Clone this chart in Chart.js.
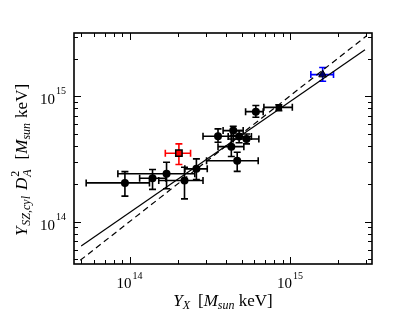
<!DOCTYPE html>
<html>
<head>
<meta charset="utf-8">
<script src="https://cdn.jsdelivr.net/npm/chart.js@4.4.1/dist/chart.umd.min.js"></script>
<style>
  html, body { margin: 0; padding: 0; background: #fff; }
  canvas { display: block; }
</style>
</head>
<body>
<canvas id="yszChart" width="415" height="312"></canvas>
<script>
// Datos del gráfico
const circX   = [9.35e13, 1.39e14, 1.70e14, 2.20e14, 2.61e14, 3.56e14, 4.43e14, 4.82e14, 5.36e14, 4.31e14, 4.69e14, 6.13e14];
const circY   = [2.04e14, 2.22e14, 2.41e14, 2.13e14, 2.64e14, 4.81e14, 5.33e14, 4.78e14, 4.57e14, 3.97e14, 3.06e14, 7.55e14];
const circXlo = [5.36e13, 1.155e14, 8.45e13, 1.52e14, 2.21e14, 2.87e14, 3.83e14, 4.12e14, 4.43e14, 3.56e14, 3.02e14, 5.29e14];
const circXhi = [1.33e14, 1.68e14, 2.55e14, 2.87e14, 3.05e14, 4.31e14, 5.11e14, 5.75e14, 6.40e14, 5.16e14, 6.34e14, 6.81e14];
const circYlo = [1.60e14, 1.81e14, 1.83e14, 1.52e14, 2.17e14, 4.30e14, 4.87e14, 4.26e14, 4.18e14, 3.31e14, 2.52e14, 6.81e14];
const circYhi = [2.51e14, 2.61e14, 2.98e14, 2.72e14, 3.17e14, 5.50e14, 5.77e14, 5.33e14, 5.01e14, 4.57e14, 3.58e14, 8.44e14];

const sqX = [8.53e14], sqY = [8.17e14];
const sqXlo = [6.88e14], sqXhi = [1.035e15], sqYlo = [7.69e14], sqYhi = [8.58e14];

const redX = [2.03e14], redY = [3.52e14];
const redXlo = [1.67e14], redXhi = [2.40e14], redYlo = [2.86e14], redYhi = [4.18e14];

const bluX = [1.60e15], bluY = [1.49e15];
const bluXlo = [1.35e15], bluXhi = [1.87e15], bluYlo = [1.32e15], bluYhi = [1.70e15];

// Rectas: ajuste (continua) y relación 1:1 (discontinua)
const fitX = [4.99e13, 2.94e15], fitY = [6.40e13, 2.35e15];
const oneX = [4.92e13, 3.01e15], oneY = [4.92e13, 3.04e15];

// Límites de los ejes y marcas principales
const xLimits = [4.5e13, 3.25e15];
const yLimits = [4.6e13, 3.2e15];
const majorTicks = [1e14, 1e15];
const tickExp = ['14', '15'];

const FONT = '"Liberation Serif", "DejaVu Serif", serif';

function pts(xs, ys) {
    return xs.map((x, i) => ({ x: x, y: ys[i] }));
}

function errs(xlo, xhi, ylo, yhi) {
    return xlo.map((v, i) => ({ xlo: v, xhi: xhi[i], ylo: ylo[i], yhi: yhi[i] }));
}

// Dibuja texto con subíndices / superíndices
function drawRuns(ctx, runs, cx, baseY) {
    function layout(draw, startX) {
        let cur = startX, prevStart = startX, maxEnd = startX;
        runs.forEach(r => {
            let w = r.gap || 0;
            if (r.t) {
                ctx.font = (r.italic ? 'italic ' : '') + r.size + 'px ' + FONT;
                w = ctx.measureText(r.t).width;
            }
            const x = r.stack ? prevStart : cur;
            if (draw && r.t) ctx.fillText(r.t, x, baseY + (r.dy || 0));
            prevStart = x;
            cur = r.stack ? Math.max(x + w, cur) : x + w;
            maxEnd = Math.max(maxEnd, cur);
        });
        return maxEnd - startX;
    }
    ctx.textAlign = 'left';
    ctx.textBaseline = 'alphabetic';
    const total = layout(false, 0);
    layout(true, cx - total / 2);
}

// Plugin: barras de error
const errorBars = {
    id: 'errorBars',
    beforeDatasetsDraw(chart) {
        const ctx = chart.ctx;
        const xs = chart.scales.x, ys = chart.scales.y;
        chart.data.datasets.forEach(ds => {
            if (!ds.err) return;
            ctx.save();
            ctx.strokeStyle = ds.errColor;
            ctx.lineWidth = 1.6;
            ds.err.forEach((e, i) => {
                const px = xs.getPixelForValue(ds.data[i].x);
                const py = ys.getPixelForValue(ds.data[i].y);
                const x0 = xs.getPixelForValue(e.xlo), x1 = xs.getPixelForValue(e.xhi);
                const y0 = ys.getPixelForValue(e.ylo), y1 = ys.getPixelForValue(e.yhi);
                const c = 3.5;
                ctx.beginPath();
                ctx.moveTo(x0, py); ctx.lineTo(x1, py);
                ctx.moveTo(x0, py - c); ctx.lineTo(x0, py + c);
                ctx.moveTo(x1, py - c); ctx.lineTo(x1, py + c);
                ctx.moveTo(px, y0); ctx.lineTo(px, y1);
                ctx.moveTo(px - c, y0); ctx.lineTo(px + c, y0);
                ctx.moveTo(px - c, y1); ctx.lineTo(px + c, y1);
                ctx.stroke();
            });
            ctx.restore();
        });
    }
};

// Plugin: marco, marcas hacia dentro, etiquetas y títulos
const frameAxes = {
    id: 'frameAxes',
    afterDraw(chart) {
        const ctx = chart.ctx;
        const a = chart.chartArea;
        const xs = chart.scales.x, ys = chart.scales.y;
        ctx.save();
        ctx.strokeStyle = '#000';
        ctx.fillStyle = '#000';

        // marcas
        ctx.lineWidth = 1;
        ctx.beginPath();
        for (let e = 13; e <= 15; e++) {
            for (let k = 1; k <= 9; k++) {
                const v = k * Math.pow(10, e);
                const len = k === 1 ? 7 : 4;
                if (v >= xLimits[0] && v <= xLimits[1]) {
                    const px = Math.round(xs.getPixelForValue(v)) + 0.5;
                    ctx.moveTo(px, a.bottom); ctx.lineTo(px, a.bottom - len);
                    ctx.moveTo(px, a.top); ctx.lineTo(px, a.top + len);
                }
                if (v >= yLimits[0] && v <= yLimits[1]) {
                    const py = Math.round(ys.getPixelForValue(v)) + 0.5;
                    ctx.moveTo(a.left, py); ctx.lineTo(a.left + len, py);
                    ctx.moveTo(a.right, py); ctx.lineTo(a.right - len, py);
                }
            }
        }
        ctx.stroke();

        // marco
        ctx.lineWidth = 1.6;
        ctx.strokeRect(a.left, a.top, a.right - a.left, a.bottom - a.top);

        // etiquetas de las marcas
        ctx.textBaseline = 'alphabetic';
        majorTicks.forEach((v, i) => {
            ctx.font = '15px ' + FONT;
            const w10 = ctx.measureText('10').width;
            ctx.font = '10px ' + FONT;
            const wE = ctx.measureText(tickExp[i]).width;

            // eje x
            const px = xs.getPixelForValue(v);
            const sx = px - (w10 + wE + 1) / 2;
            ctx.textAlign = 'left';
            ctx.font = '15px ' + FONT;
            ctx.fillText('10', sx, a.bottom + 24);
            ctx.font = '10px ' + FONT;
            ctx.fillText(tickExp[i], sx + w10 + 1, a.bottom + 15);

            // eje y
            const py = ys.getPixelForValue(v);
            const ex = a.left - 8;
            ctx.textAlign = 'right';
            ctx.fillText(tickExp[i], ex, py - 2);
            ctx.font = '15px ' + FONT;
            ctx.fillText('10', ex - wE - 1, py + 8);
        });

        // título del eje x
        drawRuns(ctx, [
            { t: 'Y', size: 17, italic: true },
            { t: 'X', size: 12, italic: true, dy: 3 },
            { gap: 8 },
            { t: '[', size: 17 },
            { t: 'M', size: 17, italic: true },
            { t: 'sun', size: 12, italic: true, dy: 3 },
            { t: ' keV]', size: 17 }
        ], (a.left + a.right) / 2, 306);

        // título del eje y
        ctx.translate(27, 160);
        ctx.rotate(-Math.PI / 2);
        drawRuns(ctx, [
            { t: 'Y', size: 17, italic: true },
            { gap: 1 },
            { t: 'SZ,cyl', size: 12, italic: true, dy: 3 },
            { gap: 6 },
            { t: 'D', size: 17, italic: true },
            { gap: 1 },
            { t: 'A', size: 12, italic: true, dy: 4 },
            { t: '2', size: 12, dy: -8, stack: true },
            { gap: 10 },
            { t: '[', size: 17 },
            { t: 'M', size: 17, italic: true },
            { t: 'sun', size: 12, italic: true, dy: 3 },
            { gap: 5 },
            { t: 'keV]', size: 17 }
        ], 0, 0);
        ctx.restore();
    }
};

const ctxMain = document.getElementById('yszChart').getContext('2d');

const yszChart = new Chart(ctxMain, {
    type: 'scatter',
    data: {
        datasets: [
            {
                data: pts(fitX, fitY),
                showLine: true,
                borderColor: '#000',
                borderWidth: 1.2,
                pointRadius: 0
            },
            {
                data: pts(oneX, oneY),
                showLine: true,
                borderColor: '#000',
                borderWidth: 1.2,
                borderDash: [6, 4],
                pointRadius: 0
            },
            {
                data: pts(circX, circY),
                err: errs(circXlo, circXhi, circYlo, circYhi),
                errColor: '#000',
                pointStyle: 'circle',
                pointRadius: 4,
                backgroundColor: '#000',
                borderColor: '#000',
                borderWidth: 0
            },
            {
                data: pts(sqX, sqY),
                err: errs(sqXlo, sqXhi, sqYlo, sqYhi),
                errColor: '#000',
                pointStyle: 'rect',
                pointRadius: 4.5,
                backgroundColor: '#000',
                borderColor: '#000',
                borderWidth: 0
            },
            {
                data: pts(redX, redY),
                err: errs(redXlo, redXhi, redYlo, redYhi),
                errColor: '#ff0000',
                pointStyle: 'rect',
                pointRadius: 4.5,
                backgroundColor: '#ff0000',
                borderColor: '#000',
                borderWidth: 1.5
            },
            {
                data: pts(bluX, bluY),
                err: errs(bluXlo, bluXhi, bluYlo, bluYhi),
                errColor: '#0000ff',
                pointStyle: 'triangle',
                pointRadius: 4.5,
                backgroundColor: '#000066',
                borderColor: '#000',
                borderWidth: 1
            }
        ]
    },
    options: {
        responsive: false,
        animation: false,
        layout: { padding: { left: 74, top: 33, right: 43, bottom: 48 } },
        plugins: {
            legend: { display: false },
            tooltip: { enabled: false }
        },
        scales: {
            x: { type: 'logarithmic', min: xLimits[0], max: xLimits[1], display: false },
            y: { type: 'logarithmic', min: yLimits[0], max: yLimits[1], display: false }
        }
    },
    plugins: [errorBars, frameAxes]
});
</script>
</body>
</html>
